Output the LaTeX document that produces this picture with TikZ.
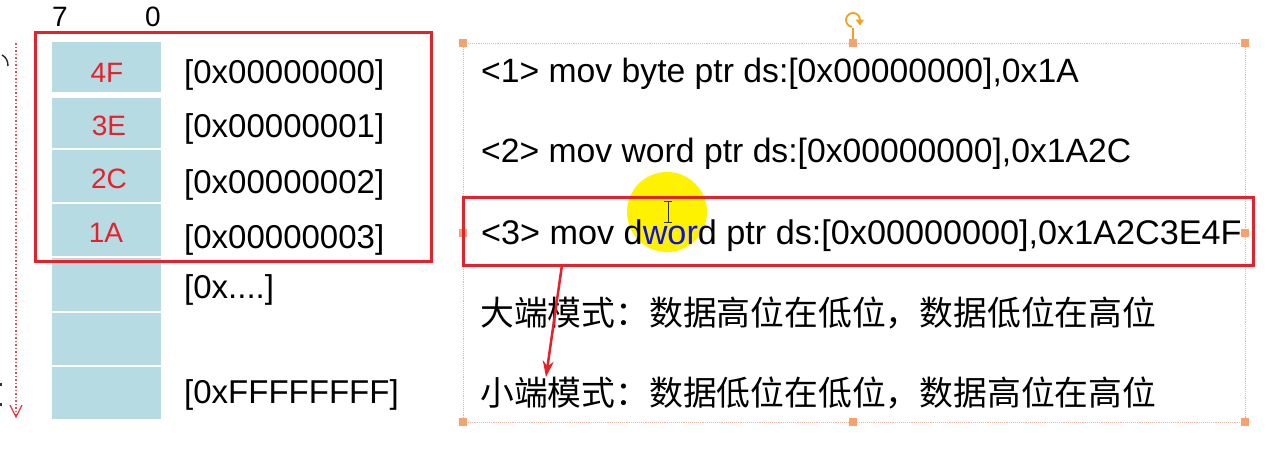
\documentclass[tikz,border=0pt]{standalone}
\usepackage{fontspec}
\setmainfont{Liberation Sans}
\newfontfamily\cjk{Noto Sans CJK SC}
\usetikzlibrary{arrows.meta}
\definecolor{cellblue}{HTML}{B7DBE3}
\definecolor{boxred}{HTML}{E8202A}
\definecolor{handle}{HTML}{F5A26E}
\definecolor{selline}{HTML}{F0B4A4}
\definecolor{hlyellow}{HTML}{FFF200}
\definecolor{rotor}{HTML}{F2A21E}
\definecolor{txtblue}{HTML}{1010E0}
\tikzset{
  cell/.style={fill=cellblue, draw=none},
  celllabel/.style={anchor=base, text=boxred, inner sep=0pt, font=\fontsize{28}{32}\selectfont},
  addr/.style={anchor=base west, inner sep=0pt, font=\fontsize{33}{40}\selectfont},
  hdr/.style={anchor=base west, inner sep=0pt, font=\fontsize{28}{32}\selectfont},
  code/.style={anchor=base west, inner sep=0pt, font=\fontsize{33.7}{40}\selectfont},
  cjktext/.style={anchor=base west, inner sep=0pt, font=\cjk\fontsize{33.8}{40}\selectfont},
  redbox/.style={draw=boxred, line width=3pt},
  hbox/.style={fill=handle, draw=none, minimum size=8pt, inner sep=0pt},
}
\begin{document}
\begin{tikzpicture}[x=1pt,y=-1pt]
\useasboundingbox (0,0) rectangle (1270,463);
\fill[white] (0,0) rectangle (1270,463);

% left partial glyphs (cut off)
\draw[line width=1.4pt, black!85] (2,55) .. controls (6,57) and (8,61) .. (8,66);
\fill[black!80] (0,383) rectangle (2,386);
\fill[black!80] (0,403) rectangle (2,406);

% left dotted arrow
\coordinate (dtop) at (16,43);
\coordinate (dbot) at (16,417);
\draw[boxred!80, dotted, line width=1.5pt] (dtop) -- (dbot);
\draw[boxred!90, line width=1.3pt] (10,405) -- (dbot) -- (22,405);

% header
\node[hdr] (h7) at (52,27) {7};
\node[hdr] (h0) at (145,27) {0};

% memory cells
\path[cell] (52,42) rectangle (161,92);
\path[cell] (52,98) rectangle (161,148);
\path[cell] (52,150) rectangle (161,202);
\path[cell] (52,204) rectangle (161,256);
\path[cell] (52,258) rectangle (161,311);
\path[cell] (52,313) rectangle (161,365);
\path[cell] (52,367) rectangle (161,419);

\node[celllabel] (c1) at (107,82) {4F};
\node[celllabel] (c2) at (109,135) {3E};
\node[celllabel] (c3) at (109,188) {2C};
\node[celllabel] (c4) at (106,242) {1A};

% addresses
\node[addr] (a1) at (184,83) {[0x00000000]};
\node[addr] (a2) at (184,137) {[0x00000001]};
\node[addr] (a3) at (184,193) {[0x00000002]};
\node[addr] (a4) at (184,248) {[0x00000003]};
\node[addr] (a5) at (184,298) {[0x....]};
\node[addr] (a7) at (184,403) {[0xFFFFFFFF]};

% left red box
\draw[redbox] (35,32) rectangle (431,261);

% selection frame
\draw[selline, densely dotted, line width=0.9pt] (463,43) rectangle (1245,422);
\node[hbox] (s1) at (463,43) {};
\node[hbox] (s2) at (853,43) {};
\node[hbox] (s3) at (1245,43) {};
\node[hbox] (s4) at (463,233) {};
\node[hbox] (s5) at (1245,233) {};
\node[hbox] (s6) at (463,422) {};
\node[hbox] (s7) at (853,422) {};
\node[hbox] (s8) at (1245,422) {};
% rotation handle
\coordinate (rot) at (853,28);
\draw[rotor, line width=1.2pt] (rot) -- (s2.north);
\draw[rotor, line width=1.8pt] (853,20) ++(100:7) arc[start angle=100, end angle=360, radius=7];
\fill[rotor] (855.5,19.5) -- (864,19.5) -- (860,25.5) -- cycle;

% yellow highlight
\fill[hlyellow] (667,212) circle (40);

% code lines
\node[code] (l1) at (481,82) {<1> mov byte ptr ds:[0x00000000],0x1A};
\node[code] (l2) at (481,162) {<2> mov word ptr ds:[0x00000000],0x1A2C};
\node[code, font=\fontsize{34.2}{40}\selectfont] (l3) at (481,244) {<3> mov d\textcolor{txtblue}{wor}d ptr ds:[0x00000000],0x1A2C3E4F};

% text cursor
\draw[black!80, line width=1pt] (668,201) -- (668,222);
\draw[black!80, line width=1pt] (664,201) -- (672,201);
\draw[black!80, line width=1pt] (664,222) -- (672,222);

% Chinese lines
\node[cjktext] (big) at (480,325) {大端模式：数据高位在低位，数据低位在高位};
\node[cjktext] (small) at (480,405) {小端模式：数据低位在低位，数据高位在高位};

% red box around line 3
\draw[redbox] (463,197) rectangle (1253,265);

% red arrow
\coordinate (astart) at (562,265);
\coordinate (aend) at (546,377);
\draw[boxred, line width=2.5pt, -{Stealth[length=16pt,width=11pt]}] (astart) -- (aend);
\end{tikzpicture}
\end{document}
